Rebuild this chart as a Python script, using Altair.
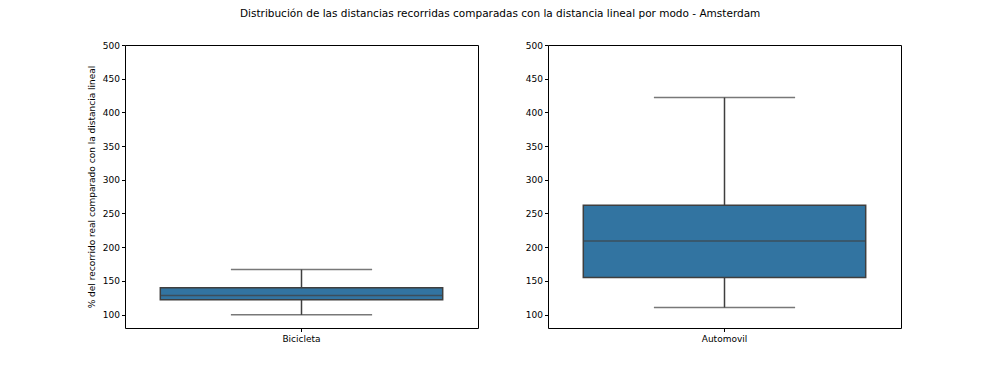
import altair as alt
import pandas as pd

modes = ["Bicicleta", "Automovil"]
whisker_low = [99.5, 110.5]
q1 = [121.8, 155.0]
median = [128.2, 209.3]
q3 = [139.6, 262.3]
whisker_high = [166.8, 422.0]
y_ticks = [100, 150, 200, 250, 300, 350, 400, 450, 500]

df = pd.DataFrame({
    "mode": modes,
    "lo": whisker_low,
    "q1": q1,
    "med": median,
    "q3": q3,
    "hi": whisker_high,
})

FONT = "DejaVu Sans"
BOX = "#3274a1"
EDGE = "#3f3f3f"
W, H = 353, 283
FS = 9


def panel(m, ytitle):
    base = alt.Chart(df).transform_filter(alt.datum.mode == m)
    x = alt.X("mode:N", scale=alt.Scale(paddingOuter=0.125, paddingInner=0),
              axis=alt.Axis(title=None, labelAngle=0, tickSize=3.5, labelPadding=3,
                            domain=False, labelFontSize=FS, labelFont=FONT,
                            labelColor="black", tickColor="black"))
    yscale = alt.Scale(domain=[80, 500], nice=False, zero=False)
    yaxis = alt.Axis(values=y_ticks, grid=False, domain=False, tickSize=3.5,
                     labelPadding=2, labelFontSize=FS, labelFont=FONT,
                     labelColor="black", tickColor="black",
                     title=ytitle if ytitle else None, titleFont=FONT,
                     titleFontSize=FS, titleFontWeight="normal", titleColor="black",
                     titlePadding=6)
    y = lambda f: alt.Y(f"{f}:Q", scale=yscale, axis=yaxis)
    rule_lo = base.mark_rule(color=EDGE, strokeWidth=1.5).encode(x=x, y=y("lo"), y2="q1:Q")
    rule_hi = base.mark_rule(color=EDGE, strokeWidth=1.5).encode(x=x, y=y("q3"), y2="hi:Q")
    box = base.mark_bar(fill=BOX, stroke=EDGE, strokeWidth=1.5).encode(x=x, y=y("q1"), y2="q3:Q")
    med = base.mark_tick(color=EDGE, thickness=1.5, size=W * 0.8).encode(x=x, y=y("med"))
    cap_lo = base.mark_tick(color=EDGE, thickness=1.5, size=W * 0.4).encode(x=x, y=y("lo"))
    cap_hi = base.mark_tick(color=EDGE, thickness=1.5, size=W * 0.4).encode(x=x, y=y("hi"))
    return alt.layer(rule_lo, rule_hi, box, med, cap_lo, cap_hi).properties(width=W, height=H)


chart = alt.hconcat(
    panel("Bicicleta", "% del recorrido real comparado con la distancia lineal"),
    panel("Automovil", None),
    spacing=45,
).properties(
    title=alt.TitleParams(
        "Distribución de las distancias recorridas comparadas con la distancia lineal por modo - Amsterdam",
        font=FONT, fontSize=10.5, fontWeight="normal", color="black", anchor="middle",
        offset=21.5, dx=6,
    ),
    padding={"left": 78, "top": 0, "right": 5, "bottom": 5},
    background="white",
).configure_view(stroke="black", strokeWidth=1)

chart.save("out.html", embed_options={"renderer": "svg", "actions": False})
